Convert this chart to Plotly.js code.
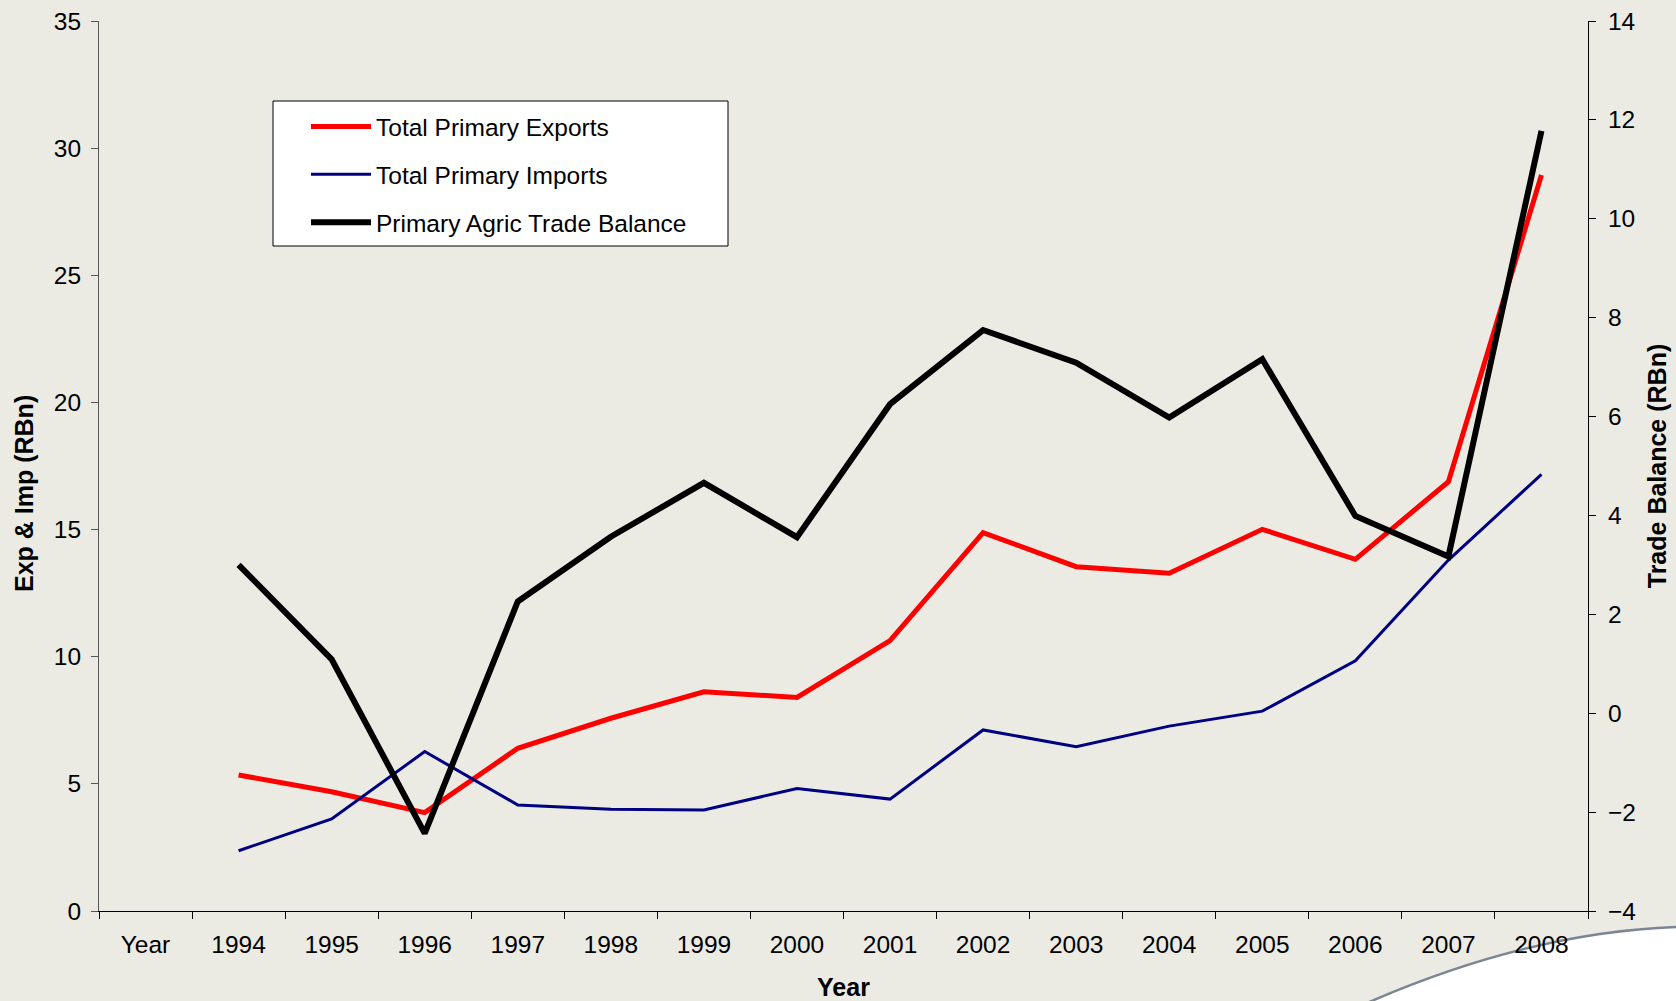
<!DOCTYPE html>
<html>
<head>
<meta charset="utf-8">
<script src="https://cdn.plot.ly/plotly-3.0.1.min.js"></script>
<style>
  html, body { margin: 0; padding: 0; background: #ebebe4; }
  #chart { width: 1676px; height: 1001px; }
</style>
</head>
<body>
<div id="chart"></div>
<script>
// Category tick labels (first slot is the empty "Year" category as in the original)
const categories = ["Year", "1994", "1995", "1996", "1997", "1998", "1999", "2000",
                    "2001", "2002", "2003", "2004", "2005", "2006", "2007", "2008"];
const years = ["1994", "1995", "1996", "1997", "1998", "1999", "2000",
               "2001", "2002", "2003", "2004", "2005", "2006", "2007", "2008"];
// Total Primary Exports (RBn, left axis)
const exportsRBn = [5.35, 4.69, 3.87, 6.40, 7.58, 8.62, 8.40, 10.63, 14.88, 13.54, 13.28, 15.01, 13.83, 16.88, 28.94];
// Total Primary Imports (RBn, left axis)
const importsRBn = [2.37, 3.62, 6.27, 4.17, 4.00, 3.97, 4.82, 4.40, 7.12, 6.46, 7.27, 7.86, 9.84, 13.80, 17.17];
// Primary Agric Trade Balance (RBn, right axis)
const balanceRBn = [3.00, 1.09, -2.43, 2.26, 3.57, 4.66, 3.56, 6.25, 7.75, 7.09, 5.98, 7.16, 3.99, 3.17, 11.78];

const FONT = "Liberation Sans, Arial, Helvetica, sans-serif";
const BG = "#ebebe4";

const traces = [
  { x: years, y: exportsRBn, name: "Total Primary Exports", type: "scatter", mode: "lines",
    line: { color: "#ff0000", width: 5 }, xaxis: "x", yaxis: "y", legendgroup: "a" },
  { x: years, y: importsRBn, name: "Total Primary Imports", type: "scatter", mode: "lines",
    line: { color: "#000080", width: 3 }, xaxis: "x", yaxis: "y", legendgroup: "b" },
  { x: years, y: balanceRBn, name: "Primary Agric Trade Balance", type: "scatter", mode: "lines",
    line: { color: "#000000", width: 6 }, xaxis: "x", yaxis: "y2", legendgroup: "c" }
];

const tickFont = { family: FONT, size: 24.5, color: "#000" };
const titleFont = { family: FONT, size: 25, color: "#000", weight: "bold" };

const layout = {
  width: 1676, height: 1001,
  paper_bgcolor: BG, plot_bgcolor: "rgba(0,0,0,0)",
  margin: { l: 99, r: 88, t: 21, b: 90, autoexpand: false },
  font: { family: FONT, size: 24.5, color: "#000" },
  showlegend: true,
  legend: {
    xref: "container", yref: "container",
    x: 306 / 1676, y: 1 - 104 / 1001, xanchor: "left", yanchor: "top",
    bgcolor: "rgba(0,0,0,0)", borderwidth: 0, itemwidth: 60,
    font: { family: FONT, size: 24.5, color: "#000" },
    tracegroupgap: 13, traceorder: "grouped"
  },
  xaxis: {
    type: "category", categoryorder: "array", categoryarray: categories,
    range: [-0.5, categories.length - 0.5],
    tickmode: "array", tickvals: categories, ticktext: categories,
    tickson: "boundaries", ticks: "outside", ticklen: 7, tickwidth: 1, tickcolor: "#000",
    ticklabelstandoff: 12,
    showline: true, linecolor: "#000", linewidth: 1, showgrid: false, zeroline: false,
    tickfont: tickFont,
    title: { text: "Year", font: titleFont, standoff: 22 }
  },
  xaxis2: {
    type: "category", categoryorder: "array", categoryarray: categories,
    range: [-0.5, categories.length - 0.5], overlaying: "x", anchor: "y",
    tickmode: "array", tickvals: categories,
    tickson: "boundaries", ticks: "inside", ticklen: 7, tickwidth: 1, tickcolor: "#000",
    showticklabels: false, showline: false, showgrid: false, zeroline: false
  },
  yaxis: {
    range: [0, 35], dtick: 5, tick0: 0,
    ticks: "outside", ticklen: 7, tickwidth: 1, tickcolor: "#555",
    ticklabelstandoff: 5,
    showline: true, linecolor: "#555", linewidth: 1, showgrid: false, zeroline: false,
    tickfont: tickFont
  },
  yaxis3: {
    range: [0, 35], dtick: 5, tick0: 0, overlaying: "y", anchor: "x", side: "left",
    ticks: "inside", ticklen: 7, tickwidth: 1, tickcolor: "#555",
    showticklabels: false, showline: false, showgrid: false, zeroline: false
  },
  yaxis2: {
    range: [-4, 14], dtick: 2, tick0: 0, overlaying: "y", side: "right", anchor: "x",
    ticks: "outside", ticklen: 7, tickwidth: 1, tickcolor: "#000",
    ticklabelstandoff: 7,
    showline: true, linecolor: "#000", linewidth: 1, showgrid: false, zeroline: false,
    tickfont: tickFont,
    title: { text: "Trade Balance (RBn)", font: titleFont, standoff: 13 }
  },
  yaxis4: {
    range: [-4, 14], dtick: 2, tick0: 0, overlaying: "y", side: "right", anchor: "x",
    ticks: "inside", ticklen: 7, tickwidth: 1, tickcolor: "#000",
    showticklabels: false, showline: false, showgrid: false, zeroline: false
  },
  annotations: [
    // left axis title
    { text: "Exp & Imp (RBn)", textangle: -90, showarrow: false,
      xref: "paper", yref: "paper",
      x: (24 - 99) / 1489, y: (911 - 494) / 890, xanchor: "center", yanchor: "middle",
      font: titleFont }
  ],
  shapes: [
    // legend frame
    { type: "rect", xref: "paper", yref: "paper", layer: "below",
      x0: (273 - 99) / 1489, x1: (728 - 99) / 1489,
      y0: (911 - 246) / 890, y1: (911 - 101) / 890,
      fillcolor: "#ffffff", line: { color: "#000", width: 1 } },
    // slide decoration swoosh (bottom right)
    { type: "path", xref: "paper", yref: "paper", layer: "below",
      path: "M " + ((1367 - 99) / 1489) + "," + ((911 - 1003) / 890) +
            " Q " + ((1530 - 99) / 1489) + "," + ((911 - 932) / 890) +
            " " + ((1678 - 99) / 1489) + "," + ((911 - 927) / 890) +
            " L " + ((1678 - 99) / 1489) + "," + ((911 - 1003) / 890) + " Z",
      fillcolor: "#ffffff", line: { color: "#7b8694", width: 2.5 } }
  ]
};

Plotly.newPlot("chart", traces, layout, { displayModeBar: false, staticPlot: true });
</script>
</body>
</html>
